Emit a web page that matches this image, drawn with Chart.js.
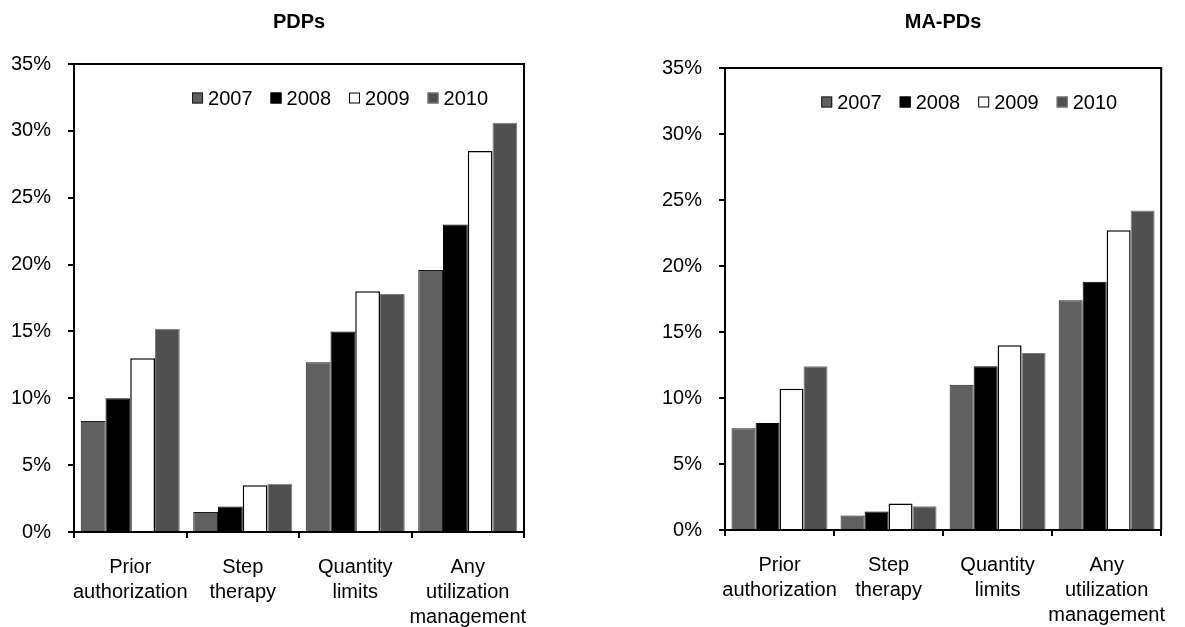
<!DOCTYPE html>
<html lang="en">
<head>
  <meta charset="UTF-8">
  <title>PDPs vs MA-PDs utilization management</title>
  <script src="https://cdn.jsdelivr.net/npm/chart.js"></script>
  <style>
    body { margin: 0; background: #fff; }
    .wrap { position: absolute; top: 0; height: 627px; }
    #left { left: 0; width: 560px; }
    #right { left: 628px; width: 557px; }
  </style>
</head>
<body>
  <div class="wrap" id="left"><canvas id="pdp"></canvas></div>
  <div class="wrap" id="right"><canvas id="mapd"></canvas></div>

  <script>
    // data
    const categories = [
      ['Prior', 'authorization'],
      ['Step', 'therapy'],
      ['Quantity', 'limits'],
      ['Any', 'utilization', 'management']
    ];
    const years = ['2007', '2008', '2009', '2010'];

    const pdp2007 = [8.3, 1.5, 12.7, 19.6];
    const pdp2008 = [10.0, 1.9, 15.0, 23.0];
    const pdp2009 = [13.0, 3.5, 18.0, 28.5];
    const pdp2010 = [15.2, 3.6, 17.8, 30.6];

    const mapd2007 = [7.7, 1.1, 11.0, 17.4];
    const mapd2008 = [8.1, 1.4, 12.4, 18.8];
    const mapd2009 = [10.7, 2.0, 14.0, 22.7];
    const mapd2010 = [12.4, 1.8, 13.4, 24.2];

    const yTicks = [0, 5, 10, 15, 20, 25, 30, 35];

    // look of each year
    const fills = ['#606060', '#000000', '#ffffff', '#505050'];
    const edges = ['#1a1a1a', '#000000', '#000000', '#7a7a7a'];
    const edgeW = [1, 1, 1.5, 1];

    const FONT = 'Liberation Sans, Arial, sans-serif';

    // box round the plot + legend drawn inside the plot area
    const boxAndLegend = {
      id: 'boxAndLegend',
      afterDraw(chart) {
        const a = chart.chartArea;
        const ctx = chart.ctx;
        ctx.save();
        ctx.strokeStyle = '#000';
        ctx.lineWidth = 2;
        ctx.beginPath();
        ctx.moveTo(a.left, a.top);
        ctx.lineTo(a.right, a.top);
        ctx.lineTo(a.right, a.bottom);
        ctx.stroke();

        ctx.font = '20px ' + FONT;
        ctx.textBaseline = 'middle';
        const box = 11, gapTxt = 5, gapItem = 18;
        const ds = chart.data.datasets;
        let total = 0;
        ds.forEach((d, i) => {
          total += box + gapTxt + ctx.measureText(d.label).width;
          if (i < ds.length - 1) total += gapItem;
        });
        let x = a.right - chart.options.plugins.boxAndLegend.right - total;
        const y = a.top + 34;
        ds.forEach(d => {
          ctx.fillStyle = d.backgroundColor;
          ctx.fillRect(x, y - box / 2, box, box);
          ctx.strokeStyle = d.borderColor;
          ctx.lineWidth = 1;
          ctx.strokeRect(x + 0.5, y - box / 2 + 0.5, box - 1, box - 1);
          x += box + gapTxt;
          ctx.fillStyle = '#000';
          ctx.fillText(d.label, x, y + 1);
          x += ctx.measureText(d.label).width + gapItem;
        });
        ctx.restore();
      }
    };

    function makeChart(id, title, series, yWidth, padRight, titleGap, xHeight, legendRight) {
      return new Chart(document.getElementById(id), {
        type: 'bar',
        data: {
          labels: categories,
          datasets: series.map((s, i) => ({
            label: years[i],
            data: s,
            backgroundColor: fills[i],
            borderColor: edges[i],
            borderWidth: edgeW[i],
            barPercentage: 1,
            categoryPercentage: 0.88
          }))
        },
        options: {
          responsive: true,
          maintainAspectRatio: false,
          animation: false,
          layout: { padding: { left: 0, right: padRight, top: 0, bottom: 0 } },
          plugins: {
            legend: { display: false },
            tooltip: { enabled: false },
            title: {
              display: true,
              text: title,
              fullSize: false,
              color: '#000',
              font: { family: FONT, size: 20, weight: 'bold', lineHeight: 1.2 },
              padding: { top: 10, bottom: titleGap }
            },
            boxAndLegend: { right: legendRight }
          },
          scales: {
            x: {
              grid: {
                display: true,
                drawOnChartArea: false,
                offset: true,
                color: '#000',
                tickLength: 6,
                lineWidth: 2
              },
              border: { color: '#000', width: 2 },
              ticks: {
                color: '#000',
                maxRotation: 0,
                autoSkip: false,
                padding: 17,
                font: { family: FONT, size: 20, lineHeight: 1.25 }
              },
              afterFit(scale) { scale.height = xHeight; }
            },
            y: {
              min: 0,
              max: 35,
              afterBuildTicks(scale) { scale.ticks = yTicks.map(v => ({ value: v })); },
              grid: {
                display: true,
                drawOnChartArea: false,
                color: '#000',
                tickLength: 6,
                lineWidth: 2
              },
              border: { color: '#000', width: 2 },
              ticks: {
                color: '#000',
                padding: 17,
                font: { family: FONT, size: 20 },
                callback: v => v + '%'
              },
              afterFit(scale) { scale.width = yWidth; }
            }
          }
        },
        plugins: [boxAndLegend]
      });
    }

    makeChart('pdp', 'PDPs', [pdp2007, pdp2008, pdp2009, pdp2010], 74, 36, 30, 95, 36);
    makeChart('mapd', 'MA-PDs', [mapd2007, mapd2008, mapd2009, mapd2010], 97, 10, 34, 97, 44);
  </script>
</body>
</html>
